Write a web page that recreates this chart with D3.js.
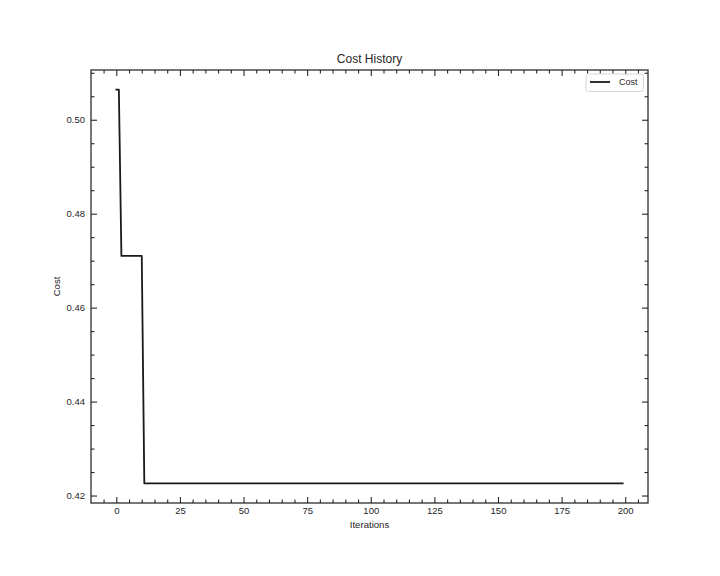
<!DOCTYPE html>
<html>
<head>
<meta charset="utf-8">
<script src="https://cdn.jsdelivr.net/npm/d3@7"></script>
<style>
  body { margin: 0; background: #fff; }
  svg { display: block; }
  text { font-family: "Liberation Sans", Arial, sans-serif; fill: #262626; }
</style>
</head>
<body>
<svg id="chart" width="720" height="576"></svg>
<script>
// Data (breakpoints of the cost curve)
const iterations = [0, 1, 2, 10, 11, 199];
const cost = [0.5064, 0.5064, 0.4710, 0.4710, 0.4226, 0.4226];
const xMajorTicks = [0, 25, 50, 75, 100, 125, 150, 175, 200];
const yMajorTicks = [0.42, 0.44, 0.46, 0.48, 0.50];
const xMinorTicks = [-5, 5, 10, 15, 20, 30, 35, 40, 45, 55, 60, 65, 70, 80, 85, 90, 95, 105, 110, 115, 120, 130, 135, 140, 145, 155, 160, 165, 170, 180, 185, 190, 195, 205];
const yMinorTicks = [0.425, 0.43, 0.435, 0.445, 0.45, 0.455, 0.465, 0.47, 0.475, 0.485, 0.49, 0.495, 0.505, 0.51];
const titleText = "Cost History";
const xLabel = "Iterations";
const yLabel = "Cost";
const seriesName = "Cost";

const svg = d3.select("#chart");
svg.append("rect").attr("width", 720).attr("height", 576).attr("fill", "#fff");

const L = 91, R = 648, T = 70, B = 503;
const xMin = d3.min(iterations), xMax = d3.max(iterations);
const yMin = d3.min(cost), yMax = d3.max(cost);
const xm = (xMax - xMin) * 0.05, ym = (yMax - yMin) * 0.05;
const x = d3.scaleLinear().domain([xMin - xm, xMax + xm]).range([L, R]);
const y = d3.scaleLinear().domain([yMin - ym, yMax + ym]).range([B, T]);

const ink = "#262626";
function style(g, fs) {
  g.select(".domain").remove();
  g.selectAll(".tick line").attr("stroke", ink).attr("stroke-width", 1.1);
  g.selectAll(".tick text").attr("font-size", fs).attr("fill", ink)
    .style("font-family", '"Liberation Sans", Arial, sans-serif');
}

// bottom
const gb = svg.append("g").attr("transform", `translate(0,${B})`);
gb.call(d3.axisBottom(x).tickValues(xMinorTicks).tickSize(-3.5).tickFormat("")); style(gb, 9.5);
const gb2 = svg.append("g").attr("transform", `translate(0,${B})`);
gb2.call(d3.axisBottom(x).tickValues(xMajorTicks).tickSize(-6).tickPadding(4.5).tickFormat(d3.format("d"))); style(gb2, 9.5);
// top
const gt = svg.append("g").attr("transform", `translate(0,${T})`);
gt.call(d3.axisTop(x).tickValues(xMinorTicks).tickSize(-3.5).tickFormat("")); style(gt, 9.5);
const gt2 = svg.append("g").attr("transform", `translate(0,${T})`);
gt2.call(d3.axisTop(x).tickValues(xMajorTicks).tickSize(-6).tickFormat("")); style(gt2, 9.5);
// left
const gl = svg.append("g").attr("transform", `translate(${L},0)`);
gl.call(d3.axisLeft(y).tickValues(yMinorTicks).tickSize(-3.5).tickFormat("")); style(gl, 9.5);
const gl2 = svg.append("g").attr("transform", `translate(${L},0)`);
gl2.call(d3.axisLeft(y).tickValues(yMajorTicks).tickSize(-6).tickPadding(6).tickFormat(d3.format(".2f"))); style(gl2, 9.5);
// right
const gr = svg.append("g").attr("transform", `translate(${R},0)`);
gr.call(d3.axisRight(y).tickValues(yMinorTicks).tickSize(-3.5).tickFormat("")); style(gr, 9.5);
const gr2 = svg.append("g").attr("transform", `translate(${R},0)`);
gr2.call(d3.axisRight(y).tickValues(yMajorTicks).tickSize(-6).tickFormat("")); style(gr2, 9.5);

// spines
svg.append("rect").attr("x", L).attr("y", T).attr("width", R - L).attr("height", B - T)
  .attr("fill", "none").attr("stroke", ink).attr("stroke-width", 1.25);

// line
const pts = iterations.map((d, i) => [d, cost[i]]);
svg.append("path").datum(pts)
  .attr("d", d3.line().x(d => x(d[0])).y(d => y(d[1])))
  .attr("fill", "none").attr("stroke", "#1a1a1a").attr("stroke-width", 1.8)
  .attr("stroke-linejoin", "round").attr("stroke-linecap", "square");

// title & labels
svg.append("text").attr("x", (L + R) / 2).attr("y", 63).attr("text-anchor", "middle")
  .attr("font-size", 12).text(titleText);
svg.append("text").attr("x", (L + R) / 2).attr("y", 528).attr("text-anchor", "middle")
  .attr("font-size", 9.6).text(xLabel);
svg.append("text").attr("transform", `translate(60,${(T + B) / 2}) rotate(-90)`)
  .attr("text-anchor", "middle").attr("font-size", 9.6).text(yLabel);

// legend
const lg = svg.append("g");
lg.append("rect").attr("x", 586).attr("y", 74).attr("width", 57.5).attr("height", 17.5)
  .attr("rx", 2.5).attr("fill", "#fff").attr("fill-opacity", 0.8)
  .attr("stroke", "#cccccc").attr("stroke-width", 0.8);
lg.append("line").attr("x1", 590).attr("x2", 610).attr("y1", 82).attr("y2", 82)
  .attr("stroke", "#1a1a1a").attr("stroke-width", 1.8);
lg.append("text").attr("x", 619).attr("y", 85.3).attr("font-size", 9).text(seriesName);
</script>
</body>
</html>
